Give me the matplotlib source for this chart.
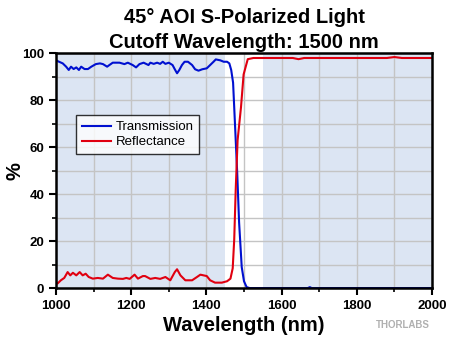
import matplotlib
matplotlib.use("Agg")
import matplotlib.pyplot as plt
from matplotlib.ticker import MultipleLocator

plt.rcParams["font.family"] = ["Liberation Sans", "DejaVu Sans"]

# transmission curve (nm, %)
trans_wl = [1000, 1004, 1018, 1027, 1034, 1040, 1047, 1054, 1061, 1067, 1076, 1085,
            1094, 1106, 1117, 1125, 1136, 1142, 1151, 1169, 1182, 1191, 1204, 1213,
            1222, 1233, 1246, 1251, 1260, 1269, 1277, 1284, 1291, 1300, 1310, 1317,
            1322, 1328, 1335, 1342, 1351, 1362, 1370, 1379, 1389, 1401, 1410, 1419,
            1425, 1437, 1446, 1455, 1461, 1466, 1471, 1476, 1482, 1487, 1494, 1500,
            1507, 1515, 1600, 1670, 1675, 1680, 1800, 2000]
trans = [97.1, 96.7, 95.7, 94.3, 92.9, 94.3, 93.3, 94.0, 92.9, 94.3, 93.3, 93.3,
         94.3, 95.4, 95.7, 95.4, 94.3, 95.0, 96.0, 96.0, 95.4, 96.0, 95.0, 94.0,
         95.4, 96.0, 95.0, 96.0, 95.5, 96.0, 95.5, 96.4, 95.5, 96.0, 95.0, 92.9,
         91.5, 92.9, 95.0, 96.4, 96.4, 95.0, 93.2, 92.6, 93.2, 93.6, 95.0, 96.4,
         97.4, 97.0, 96.4, 96.4, 95.7, 92.9, 87.5, 70.0, 49.0, 28.0, 9.0, 3.0,
         0.5, 0.1, 0.1, 0.1, 0.5, 0.1, 0.1, 0.1]

# reflectance curve (nm, %)
refl_wl = [1000, 1004, 1013, 1022, 1031, 1038, 1045, 1054, 1063, 1071, 1079, 1087,
           1098, 1111, 1125, 1138, 1151, 1165, 1178, 1187, 1196, 1209, 1218, 1231,
           1237, 1251, 1264, 1277, 1291, 1304, 1316, 1322, 1331, 1344, 1362, 1375,
           1384, 1401, 1410, 1423, 1441, 1455, 1464, 1470, 1474, 1478, 1483, 1492,
           1499, 1510, 1525, 1630, 1645, 1660, 1880, 1900, 1920, 2000]
refl = [2.7, 2.0, 3.4, 4.4, 6.9, 5.5, 6.6, 5.5, 6.9, 5.5, 6.2, 4.8,
        4.1, 4.4, 4.1, 5.8, 4.4, 4.1, 4.0, 4.4, 4.0, 5.8, 4.1, 5.2,
        5.2, 4.0, 4.4, 4.0, 4.8, 3.4, 6.9, 8.1, 5.5, 3.4, 3.4, 4.8,
        5.8, 5.2, 3.4, 2.4, 2.4, 3.0, 4.1, 8.5, 20.7, 42.0, 63.0, 77.0,
        91.0, 97.5, 98.0, 98.0, 97.5, 98.0, 98.0, 98.4, 98.0, 98.0]

shade_bands = [(1000, 1450), (1550, 2000)]

fig = plt.figure(figsize=(4.5, 3.39), dpi=100)
ax = fig.add_axes([0.1244, 0.1496, 0.8356, 0.6932])

for lo, hi in shade_bands:
    ax.axvspan(lo, hi, color="#dce5f3", zorder=0, lw=0)

ax.plot(trans_wl, trans, color="#0010d0", lw=1.5, label="Transmission", zorder=3)
ax.plot(refl_wl, refl, color="#e00010", lw=1.5, label="Reflectance", zorder=3)

ax.set_xlim(1000, 2000)
ax.set_ylim(0, 100)
ax.xaxis.set_major_locator(MultipleLocator(200))
ax.xaxis.set_minor_locator(MultipleLocator(100))
ax.yaxis.set_major_locator(MultipleLocator(20))
ax.yaxis.set_minor_locator(MultipleLocator(10))
ax.grid(which="both", color="#c4c4c4", lw=1, zorder=1)
ax.set_axisbelow(True)
ax.tick_params(which="major", direction="out", length=5, width=1.5, labelsize=9.5)
ax.tick_params(which="minor", direction="out", length=3, width=1.2)
for lab in ax.get_xticklabels() + ax.get_yticklabels():
    lab.set_fontweight("bold")
for sp in ax.spines.values():
    sp.set_linewidth(1.8)
    sp.set_zorder(4)

ax.set_xlabel("Wavelength (nm)", fontsize=14.5, fontweight="bold", labelpad=3)
ax.set_ylabel("%", fontsize=14.5, fontweight="bold")
ax.yaxis.set_label_coords(-0.085, 0.5)
ax.set_title("45° AOI S-Polarized Light\nCutoff Wavelength: 1500 nm",
             fontsize=14.5, fontweight="bold", linespacing=1.4, pad=4)

leg = ax.legend(loc="upper left", bbox_to_anchor=(0.053, 0.737), borderaxespad=0,
                fontsize=9.5, frameon=True, fancybox=False, edgecolor="black",
                handlelength=2.2, borderpad=0.45, labelspacing=0.2,
                handletextpad=0.35)
leg.get_frame().set_linewidth(1.0)

fig.text(0.955, 0.04, "THORLABS", color="#b0b0b0", fontsize=7, fontweight="bold",
         ha="right", va="center")

fig.savefig("out.png", dpi=100)
